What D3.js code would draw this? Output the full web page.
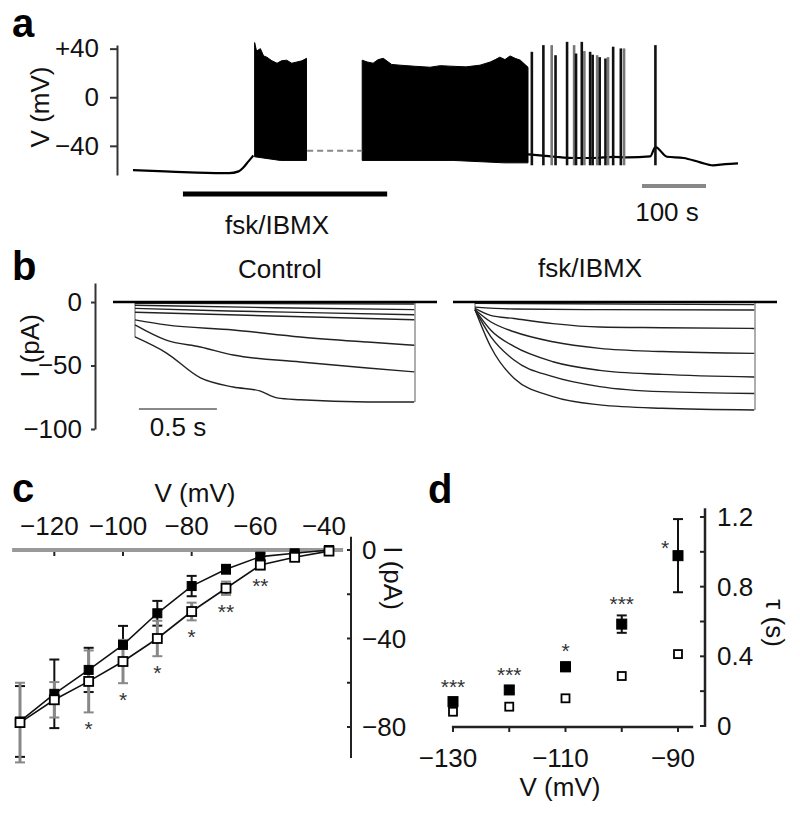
<!DOCTYPE html>
<html>
<head>
<meta charset="utf-8">
<script src="https://cdn.jsdelivr.net/npm/d3@7"></script>
<style>
    body { margin: 0; background: #fff; }
    svg { display: block; font-family: "Liberation Sans", Arial, sans-serif; }
    .lbl { font-size: 26px; fill: #111; }
    .letter { font-size: 40px; font-weight: bold; fill: #000; }
    .star { font-size: 21px; fill: #333; }
</style>
</head>
<body>
<svg id="fig" width="800" height="814"></svg>
<script>
// ---------- panel a: current clamp, t in s, V in mV ----------
const restV = [[0, -60], [50, -61], [100, -62], [150, -62.5], [165, -61], [172, -58], [180, -53], [188, -48]];
const burst1Top = [[190, 45], [193, 38], [199, 40], [204, 34], [209, 33], [217, 30], [225, 28], [232, 30],
    [240, 30.5], [248, 28], [256, 29], [264, 30], [271, 32]];
const burst1Bottom = [[190, -49], [230, -52], [271, -52]];
const gapV = [[272, -44], [358, -44]];
const burst2Top = [[358, 30.5], [366, 29], [375, 28], [383, 31], [391, 32], [404, 27], [417, 26.4], [440, 25.5],
    [464, 24.7], [480, 26], [495, 25.6], [520, 25], [542, 26.4], [558, 29], [566, 31], [573, 33], [581, 31],
    [589, 34], [597, 32], [605, 30.5], [617, 24.7]];
const burst2Bottom = [[358, -52], [500, -52], [580, -54], [617, -54]];
const tailV = [[617, -47], [640, -48], [660, -49], [690, -50], [720, -50], [750, -49], [772, -49.5], [808, -48.7],
    [816, -41], [834, -49], [860, -50], [886, -53.6], [906, -56], [925, -55], [945, -54.4]];
const spikeT = [623, 641, 654, 660, 678, 689, 692, 701, 705, 714, 718, 725, 729, 738, 742, 750, 762, 767, 816];
const spikePeak = [37.4, 42.9, 42.9, 34.6, 45.6, 42.9, 36, 45.6, 38, 37.4, 35, 34.6, 33, 31.9, 33, 41.6, 40.2, 40.2, 42.9];
const spikeTrough = -56;
const drugOn = [78, 397];

// ---------- panel b: voltage-clamp current traces, t in s, I in pA ----------
const stepEnd = 1.795;
const ctrlTraces = [
    [[0, -27.5], [0.2, -40], [0.42, -59.8], [0.63, -66.9], [0.8, -70], [0.91, -75.5], [1.06, -77], [1.49, -78.7], [1.79, -78.7]],
    [[0, -18], [0.2, -30], [0.42, -35.4], [0.63, -41.7], [1.06, -47.2], [1.49, -52], [1.79, -55]],
    [[0, -14], [0.2, -18], [0.63, -22], [1.06, -27.5], [1.49, -31.5], [1.79, -34]],
    [[0, -8], [0.6, -10], [1.2, -12], [1.79, -14]],
    [[0, -5], [0.6, -7], [1.2, -8.5], [1.79, -10]],
    [[0, -2.5], [0.9, -4.5], [1.79, -6]],
    [[0, -1], [1.79, -1.5]]
];
const fskTraces = [
    [[0, -6], [0.1, -35], [0.25, -60], [0.5, -74.5], [0.8, -81], [1.2, -83.7], [1.79, -85]],
    [[0, -6], [0.1, -27], [0.25, -45.7], [0.5, -58.8], [0.8, -66.6], [1.2, -70.6], [1.79, -72]],
    [[0, -6], [0.1, -22], [0.25, -35], [0.5, -47], [0.8, -53.8], [1.2, -57], [1.79, -59]],
    [[0, -6], [0.1, -15.5], [0.25, -23.4], [0.5, -31.3], [0.8, -36.5], [1.2, -39], [1.79, -40.4]],
    [[0, -5], [0.1, -10.5], [0.25, -13], [0.5, -17], [0.8, -19.7], [1.2, -20.2], [1.79, -20.8]],
    [[0, -4], [0.25, -5.5], [0.8, -6], [1.79, -6.3]],
    [[0, -1], [1.79, -2]]
];

// ---------- panel c: I-V, filled = control, open = fsk/IBMX ----------
const vSteps = [-130, -120, -110, -100, -90, -80, -70, -60, -50, -40];
const iCtrl = [-77.5, -65, -54.2, -42.9, -28.6, -16.3, -8.7, -3, -1.5, 0];
const iCtrlErr = [16, 15.5, 10, 8.6, 5.6, 4.6, 2, 1.5, 1, 0.5];
const iFsk = [-78, -67.7, -59.4, -50.4, -40, -27.8, -17.3, -6.8, -3.3, -0.5];
const iFskErr = [18, 8, 14, 9.8, 8, 4, 3, 2, 1, 0.5];
const iStars = ['', '', '*', '*', '*', '*', '**', '**', '', ''];

// ---------- panel d: activation time constant ----------
const vTau = [-130, -120, -110, -100, -90];
const tauCtrl = [0.14, 0.207, 0.34, 0.585, 0.978];
const tauCtrlErr = [0.02, 0.02, 0.025, 0.05, 0.21];
const tauFsk = [0.082, 0.111, 0.159, 0.287, 0.413];
const tauFskErr = [0.01, 0.01, 0.01, 0.015, 0.02];
const tauStars = ['***', '***', '*', '***', '*'];

const svg = d3.select('#fig');
const minus = d => (d < 0 ? '\u2212' + (-d) : String(d));

function styleAxis(g, width) {
    g.attr('font-family', null).attr('font-size', null);
    g.selectAll('.domain, .tick line').attr('stroke', '#333').attr('stroke-width', width);
    g.selectAll('.tick text').attr('class', 'lbl').attr('fill', null);
}

function rotLabel(g, x, y, angle, text) {
    g.append('text')
        .attr('class', 'lbl')
        .attr('transform', `translate(${x},${y}) rotate(${angle})`)
        .attr('text-anchor', 'middle')
        .attr('dy', '0.35em')
        .text(text);
}

// panel letters
[['a', 12, 37], ['b', 12, 280], ['c', 12, 502], ['d', 428, 503]].forEach(([t, x, y]) => {
    svg.append('text').attr('class', 'letter').attr('x', x).attr('y', y).text(t);
});

// ===== panel a =====
const ax = d3.scaleLinear().domain([0, 945]).range([133, 738]);
const ay = d3.scaleLinear().domain([-64, 43]).range([175, 45]);
const gA = svg.append('g');

gA.append('g')
    .attr('transform', 'translate(117,0)')
    .call(d3.axisLeft(ay).tickValues([40, 0, -40]).tickSize(7).tickSizeOuter(0).tickPadding(11)
        .tickFormat(d => d > 0 ? '+' + d : minus(d)))
    .call(g => styleAxis(g, 2));
rotLabel(gA, 40, 107, -90, 'V (mV)');

const lineA = d3.line().x(d => ax(d[0])).y(d => ay(d[1]));

gA.append('path')
    .attr('d', lineA.curve(d3.curveMonotoneX)(restV))
    .attr('fill', 'none').attr('stroke', '#000').attr('stroke-width', 2.2);

// bursts drawn as their spike envelopes
[[burst1Top, burst1Bottom], [burst2Top, burst2Bottom]].forEach(([top, bot]) => {
    gA.append('path')
        .attr('d', d3.line().x(d => ax(d[0])).y(d => ay(d[1]))(top.concat(bot.slice().reverse())) + 'Z')
        .attr('fill', '#000').attr('stroke', '#000').attr('stroke-width', 1);
});

gA.append('path')
    .attr('d', d3.line().x(d => ax(d[0])).y(d => ay(d[1]))(gapV))
    .attr('fill', 'none').attr('stroke', '#888').attr('stroke-width', 2).attr('stroke-dasharray', '6,4');

gA.append('path')
    .attr('d', d3.line().x(d => ax(d[0])).y(d => ay(d[1])).curve(d3.curveMonotoneX)(tailV))
    .attr('fill', 'none').attr('stroke', '#000').attr('stroke-width', 2.2);

gA.selectAll('.spike')
    .data(spikeT)
    .enter()
    .append('line')
    .attr('class', 'spike')
    .attr('x1', d => ax(d)).attr('x2', d => ax(d))
    .attr('y1', ay(spikeTrough))
    .attr('y2', (d, i) => ay(spikePeak[i]))
    .attr('stroke', (d, i) => i % 3 === 2 ? '#777' : '#111')
    .attr('stroke-width', 2.6);

// drug application bar
gA.append('rect')
    .attr('x', ax(drugOn[0])).attr('y', 191.5)
    .attr('width', ax(drugOn[1]) - ax(drugOn[0])).attr('height', 5)
    .attr('fill', '#000');
gA.append('text').attr('class', 'lbl').attr('x', 277).attr('y', 234).attr('text-anchor', 'middle').text('fsk/IBMX');

// 100 s scale bar
gA.append('line')
    .attr('x1', ax(795)).attr('x2', ax(895)).attr('y1', 186).attr('y2', 186)
    .attr('stroke', '#888').attr('stroke-width', 4);
gA.append('text').attr('class', 'lbl').attr('x', 667).attr('y', 221).attr('text-anchor', 'middle').text('100 s');

// ===== panel b =====
const bx = d3.scaleLinear().domain([-0.141, 1.936]).range([113, 437]);
const by = d3.scaleLinear().domain([-100, 15]).range([429, 283]);
const gB = svg.append('g');

gB.append('g')
    .attr('transform', 'translate(95,0)')
    .call(d3.axisLeft(by).tickValues([0, -50, -100]).tickSize(4).tickSizeOuter(0).tickPadding(9).tickFormat(minus))
    .call(g => styleAxis(g, 2));
rotLabel(gB, 30, 346, -90, 'I (pA)');

function drawTraces(g, traces) {
    const curve = d3.line().x(d => bx(d[0])).y(d => by(d[1])).curve(d3.curveMonotoneX);
    // onset / offset transients
    const minEnd = d3.min(traces, t => t[t.length - 1][1]);
    const minStart = d3.min(traces, t => t[0][1]);
    g.append('line')
        .attr('x1', bx(0)).attr('x2', bx(0)).attr('y1', by(0)).attr('y2', by(minStart))
        .attr('stroke', '#777').attr('stroke-width', 1.2);
    g.append('line')
        .attr('x1', bx(stepEnd)).attr('x2', bx(stepEnd)).attr('y1', by(0)).attr('y2', by(minEnd))
        .attr('stroke', '#777').attr('stroke-width', 1.2);
    g.selectAll('.trace')
        .data(traces)
        .enter()
        .append('path')
        .attr('class', 'trace')
        .attr('d', d => curve(d))
        .attr('fill', 'none').attr('stroke', '#222').attr('stroke-width', 1.4);
    // holding current at 0
    g.append('line')
        .attr('x1', bx(-0.141)).attr('x2', bx(1.936)).attr('y1', by(0)).attr('y2', by(0))
        .attr('stroke', '#000').attr('stroke-width', 2.6);
}

drawTraces(gB.append('g'), ctrlTraces);
drawTraces(gB.append('g').attr('transform', 'translate(340,0)'), fskTraces);

gB.append('text').attr('class', 'lbl').attr('x', 280).attr('y', 278).attr('text-anchor', 'middle').text('Control');
gB.append('text').attr('class', 'lbl').attr('x', 590).attr('y', 277).attr('text-anchor', 'middle').text('fsk/IBMX');

gB.append('line')
    .attr('x1', bx(0.025)).attr('x2', bx(0.525)).attr('y1', 409).attr('y2', 409)
    .attr('stroke', '#888').attr('stroke-width', 2);
gB.append('text').attr('class', 'lbl').attr('x', 178).attr('y', 436).attr('text-anchor', 'middle').text('0.5 s');

// ===== panel c =====
const cx = d3.scaleLinear().domain([-130, -40]).range([20, 329]);
const cy = d3.scaleLinear().domain([-80, 0]).range([727, 550]);
const gC = svg.append('g');

gC.append('line')
    .attr('x1', cx(-132.3)).attr('x2', cx(-35.9)).attr('y1', cy(0)).attr('y2', cy(0))
    .attr('stroke', '#999').attr('stroke-width', 4);

const cTicks = [-120, -100, -80, -60, -40];
gC.selectAll('.ctick')
    .data(cTicks)
    .enter()
    .append('line')
    .attr('class', 'ctick')
    .attr('x1', d => cx(d)).attr('x2', d => cx(d))
    .attr('y1', cy(0) + 2).attr('y2', cy(0) + 6)
    .attr('stroke', '#222').attr('stroke-width', 2);
gC.selectAll('.clab')
    .data(cTicks)
    .enter()
    .append('text')
    .attr('class', 'lbl')
    .attr('x', d => cx(d) - 5).attr('y', 535)
    .attr('text-anchor', 'middle')
    .text(minus);
gC.append('text').attr('class', 'lbl').attr('x', 195).attr('y', 502).attr('text-anchor', 'middle').text('V (mV)');

// right current axis
gC.append('line')
    .attr('x1', 351).attr('x2', 351).attr('y1', cy(6)).attr('y2', cy(-94))
    .attr('stroke', '#222').attr('stroke-width', 2);
gC.selectAll('.ryt')
    .data([0, -20, -40, -60, -80])
    .enter()
    .append('line')
    .attr('x1', 347).attr('x2', 351)
    .attr('y1', d => cy(d)).attr('y2', d => cy(d))
    .attr('stroke', '#222').attr('stroke-width', 2);
gC.selectAll('.ryl')
    .data([0, -40, -80])
    .enter()
    .append('text')
    .attr('class', 'lbl')
    .attr('x', 362).attr('y', d => cy(d)).attr('dy', '0.35em')
    .text(minus);
rotLabel(gC, 393, 578, 90, 'I (pA)');

function errorBars(g, xs, ys, es, xScale, yScale, color, width) {
    const bars = g.append('g');
    xs.forEach((v, i) => {
        const x = xScale(v);
        const y0 = yScale(ys[i] - es[i]);
        const y1 = yScale(ys[i] + es[i]);
        bars.append('line').attr('x1', x).attr('x2', x).attr('y1', y0).attr('y2', y1)
            .attr('stroke', color).attr('stroke-width', width);
        [y0, y1].forEach(yy => bars.append('line')
            .attr('x1', x - 5).attr('x2', x + 5).attr('y1', yy).attr('y2', yy)
            .attr('stroke', color).attr('stroke-width', 2));
    });
}

function squares(g, xs, ys, xScale, yScale, size, filled) {
    g.selectAll(null)
        .data(xs)
        .enter()
        .append('rect')
        .attr('x', d => xScale(d) - size / 2)
        .attr('y', (d, i) => yScale(ys[i]) - size / 2)
        .attr('width', size).attr('height', size)
        .attr('fill', filled ? '#000' : '#fff')
        .attr('stroke', '#000')
        .attr('stroke-width', filled ? 1 : 1.8);
}

errorBars(gC, vSteps, iCtrl, iCtrlErr, cx, cy, '#111', 2);
errorBars(gC, vSteps, iFsk, iFskErr, cx, cy, '#888', 3);

const lineC = d3.line().x((d, i) => cx(vSteps[i])).y(d => cy(d));
gC.append('path').attr('d', lineC(iCtrl)).attr('fill', 'none').attr('stroke', '#111').attr('stroke-width', 1.6);
gC.append('path').attr('d', lineC(iFsk)).attr('fill', 'none').attr('stroke', '#111').attr('stroke-width', 1.6);

squares(gC, vSteps, iCtrl, cx, cy, 9, true);
squares(gC, vSteps, iFsk, cx, cy, 9, false);

gC.selectAll('.cstar')
    .data(vSteps)
    .enter()
    .append('text')
    .attr('class', 'star')
    .attr('x', d => cx(d)).attr('y', (d, i) => cy(iFsk[i] - iFskErr[i]) + 24)
    .attr('text-anchor', 'middle')
    .text((d, i) => iStars[i]);

// ===== panel d =====
const dx = d3.scaleLinear().domain([-130, -90]).range([453, 678]);
const dy = d3.scaleLinear().domain([0, 1.2]).range([726, 517]);
const gD = svg.append('g');

gD.append('line')
    .attr('x1', dx(-130.2)).attr('x2', dx(-87.3)).attr('y1', 727).attr('y2', 727)
    .attr('stroke', '#222').attr('stroke-width', 2.5);
gD.selectAll('.dxt')
    .data(vTau)
    .enter()
    .append('line')
    .attr('x1', d => dx(d)).attr('x2', d => dx(d)).attr('y1', 727).attr('y2', 732)
    .attr('stroke', '#222').attr('stroke-width', 2);
gD.selectAll('.dxl')
    .data([-130, -110, -90])
    .enter()
    .append('text')
    .attr('class', 'lbl')
    .attr('x', d => dx(d) - 5).attr('y', 767)
    .attr('text-anchor', 'middle')
    .text(minus);
gD.append('text').attr('class', 'lbl').attr('x', 560).attr('y', 796).attr('text-anchor', 'middle').text('V (mV)');

gD.append('line')
    .attr('x1', 705).attr('x2', 705).attr('y1', dy(1.25)).attr('y2', dy(0) + 1)
    .attr('stroke', '#222').attr('stroke-width', 2.5);
gD.selectAll('.dyt')
    .data(d3.range(0, 1.21, 0.2))
    .enter()
    .append('line')
    .attr('x1', 700).attr('x2', 705)
    .attr('y1', d => dy(d)).attr('y2', d => dy(d))
    .attr('stroke', '#222').attr('stroke-width', 2);
gD.selectAll('.dyl')
    .data([0, 0.4, 0.8, 1.2])
    .enter()
    .append('text')
    .attr('class', 'lbl')
    .attr('x', 717).attr('y', d => dy(d)).attr('dy', '0.35em')
    .text(d => d === 0 ? '0' : d.toFixed(1));
rotLabel(gD, 775, 623, 90, '\u03c4 (s)');

errorBars(gD, vTau, tauCtrl, tauCtrlErr, dx, dy, '#111', 2);
squares(gD, vTau, tauCtrl, dx, dy, 10, true);
squares(gD, vTau, tauFsk, dx, dy, 8, false);

gD.selectAll('.dstar')
    .data(vTau)
    .enter()
    .append('text')
    .attr('class', 'star')
    .attr('x', (d, i) => i === vTau.length - 1 ? dx(d) - 13 : dx(d))
    .attr('y', (d, i) => i === vTau.length - 1 ? dy(tauCtrl[i]) - 1 : dy(tauCtrl[i] + tauCtrlErr[i]) - 4)
    .attr('text-anchor', 'middle')
    .text((d, i) => tauStars[i]);
</script>
</body>
</html>
